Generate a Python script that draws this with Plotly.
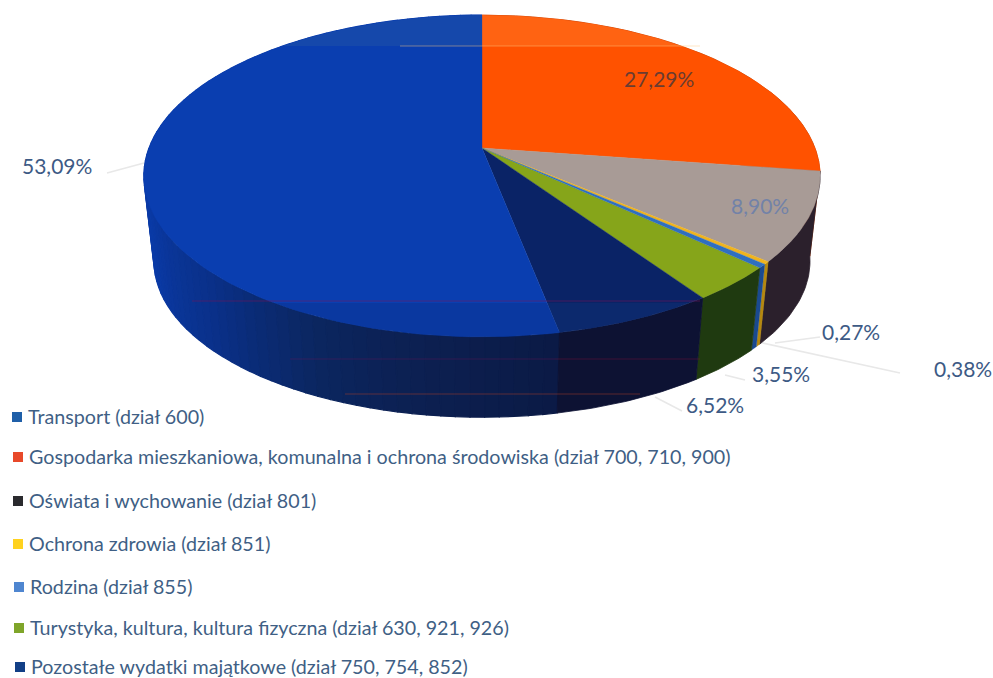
import numpy as np
import plotly.graph_objects as go

categories = ["Transport (dział 600)",
              "Gospodarka mieszkaniowa, komunalna i ochrona środowiska (dział 700, 710, 900)",
              "Oświata i wychowanie (dział 801)",
              "Ochrona zdrowia (dział 851)",
              "Rodzina (dział 855)",
              "Turystyka, kultura, kultura fizyczna (dział 630, 921, 926)",
              "Pozostałe wydatki majątkowe (dział 750, 754, 852)"]
values = [53.09, 27.29, 8.90, 0.27, 0.38, 3.55, 6.52]
labels = ["53,09%", "27,29%", "8,90%", "0,27%", "0,38%", "3,55%", "6,52%"]

top_colors = ["#0a3eb0", "#ff5200", "#a89b96", "#f0b41e", "#2f6fc0", "#86a51a", "#0a2366"]
side_colors = ["#0a3cae", "#c04000", "#2b202c", "#b5880f", "#1a4a90", "#1f3a10", "#0d1233"]
legend_colors = ["#1f5fa8", "#e8492a", "#2a2a2e", "#ffd21e", "#4f86d0", "#7fa52a", "#123f86"]
label_colors = ["#3d5a85", "#6b3c30", "#7282a8", "#3d5a85", "#3d5a85", "#3d5a85", "#3d5a85"]

label_xy = [(57, 165), (659, 78), (760, 205), (851, 331), (963, 368), (781, 373), (715, 404)]
legend_xy = [(26, 416), (27, 456), (27, 500), (27, 543), (28, 586), (28, 627), (29, 666)]
marker_x = [17, 18, 18, 18, 19, 19, 20]
leaders = [((107, 173), (144, 163)), ((775, 343), (820, 337)), ((758, 342), (900, 373)),
           ((725, 375), (745, 380)), ((655, 397), (682, 411))]

CX, CY, RX, RY, K = 482.0, 148.0, 333.0, 156.0, 0.174
S, DY = 0.97, 86.0


def project(theta, scale=1.0, dy=0.0):
    u, v = np.sin(np.radians(theta)), np.cos(np.radians(theta))
    d = 1 + K * v
    return CX + scale * RX * u / d, CY + dy - scale * RY * v / d


def clip(xs, ys, thr, keep_above):
    pts = list(zip(xs, ys))
    out = []
    ins = (lambda p: p[1] <= thr) if keep_above else (lambda p: p[1] >= thr)
    for i, p in enumerate(pts):
        q = pts[(i + 1) % len(pts)]
        if ins(p):
            out.append(p)
        if ins(p) != ins(q):
            t = (thr - p[1]) / (q[1] - p[1])
            out.append((p[0] + t * (q[0] - p[0]), thr))
    return [a for a, _ in out], [b for _, b in out]


fig = go.Figure()


def poly(xs, ys, color, lw=0.8):
    fig.add_trace(go.Scatter(x=list(xs) + [xs[0]], y=list(ys) + [ys[0]], mode="lines", fill="toself",
                             fillcolor=color, line=dict(color=color, width=lw),
                             hoverinfo="skip", showlegend=False))


def mix(c1, c2, t):
    a = [int(c1[i:i + 2], 16) for i in (1, 3, 5)]
    b = [int(c2[i:i + 2], 16) for i in (1, 3, 5)]
    return "#%02x%02x%02x" % tuple(round(a[i] + t * (b[i] - a[i])) for i in range(3))


# slice angles (clockwise from 12 o'clock); Transport ends at 12 o'clock
start = 360 - values[0] * 3.6
edges = start + np.concatenate([[0], np.cumsum(values)]) * 3.6
spans = [(edges[i], edges[i + 1]) for i in range(len(values))]

# Transport side shading stops (angle, colour)
stops = [(start, "#0b1a45"), (190, "#0c2052"), (205, "#0b2660"), (225, "#0a3088"), (250, "#0a3aa6"), (360, "#0a3cae")]


def transport_side(th):
    for (a, ca), (b, cb) in zip(stops, stops[1:]):
        if th <= b:
            return mix(ca, cb, (th - a) / (b - a))
    return stops[-1][1]


# outer wall: one band per slice, the Transport band in shaded pieces
order = [1, 2, 3, 4, 5, 6]
th_t = np.linspace(360, spans[0][0], 90)
for a, b in zip(th_t[:-1], th_t[1:]):
    x1, y1 = project(np.array([a, b]))
    x2, y2 = project(np.array([b, a]), S, DY)
    poly(list(x1) + list(x2), list(y1) + list(y2), transport_side((a + b) / 2), lw=1.2)
for i in order:
    a, b = (spans[i][0] % 360, spans[i][1] % 360)
    th = np.linspace(a, b, 30)
    x1, y1 = project(th)
    x2, y2 = project(th[::-1], S, DY)
    poly(list(x1) + list(x2), list(y1) + list(y2), side_colors[i], lw=0.3 if values[i] < 1 else 0.8)

# top faces
faces = {}
for i in [1, 2, 5, 6, 0, 3, 4]:
    a, b = spans[i][0] % 360, spans[i][1] % 360
    if b <= a:
        b += 360
    th = np.linspace(a, b, 120)
    x, y = project(th)
    xs, ys = [CX] + list(x), [CY] + list(y)
    faces[i] = (xs, ys)
    poly(xs, ys, top_colors[i], lw=0.3 if values[i] < 1 else 0.4)

# soft shading of the top face
xs, ys = clip(*faces[1], 46, True)
poly(xs, ys, "rgba(255,140,60,0.30)", 0)
xs, ys = clip(*faces[0], 46, True)
poly(xs, ys, "rgba(70,120,150,0.18)", 0)
xs, ys = clip(*faces[0], 303, False)
poly(xs, ys, "rgba(10,40,110,0.25)", 0)
xs, ys = clip(*faces[6], 303, False)
poly(xs, ys, "rgba(20,60,130,0.25)", 0)

# legend swatches
for xm, (_, yl), col, cat in zip(marker_x, legend_xy, legend_colors, categories):
    fig.add_trace(go.Scatter(x=[xm], y=[yl + 1], mode="markers", name=cat, showlegend=False, hoverinfo="skip",
                             marker=dict(symbol="square", size=10, color=col, line=dict(width=0))))

annotations = []
for (x, y), t, c in zip(label_xy, labels, label_colors):
    annotations.append(dict(x=x, y=y, text=t, showarrow=False, xanchor="center", yanchor="middle",
                            font=dict(family="Lato", size=21, color=c)))
for (x, y), t in zip(legend_xy, categories):
    annotations.append(dict(x=x, y=y, text=t, showarrow=False, xanchor="left", yanchor="middle",
                            font=dict(family="Lato", size=19.7, color="#3f5f85")))

shapes = []
for (p, q) in leaders:
    shapes.append(dict(type="line", x0=p[0], y0=p[1], x1=q[0], y1=q[1], layer="below",
                       line=dict(color="#e8e8e8", width=1.5)))
# scan streaks across the pie
for x0, x1, y, c in [(192, 700, 301, "rgba(120,20,90,0.55)"), (555, 700, 359, "rgba(120,20,60,0.45)"),
                     (290, 555, 359, "rgba(120,20,90,0.35)"), (345, 640, 394, "rgba(170,60,40,0.5)"),
                     (400, 700, 46, "rgba(255,200,130,0.45)")]:
    shapes.append(dict(type="line", x0=x0, y0=y, x1=x1, y1=y, line=dict(color=c, width=1)))

fig.update_layout(width=993, height=678, margin=dict(l=0, r=0, t=0, b=0), paper_bgcolor="white",
                  plot_bgcolor="white", annotations=annotations, shapes=shapes, showlegend=False,
                  xaxis=dict(range=[0, 993], visible=False, fixedrange=True),
                  yaxis=dict(range=[678, 0], visible=False, fixedrange=True))
fig.write_html("out.html", config={"displayModeBar": False},
               post_script="document.body.style.margin='0';document.body.style.overflow='hidden';")
